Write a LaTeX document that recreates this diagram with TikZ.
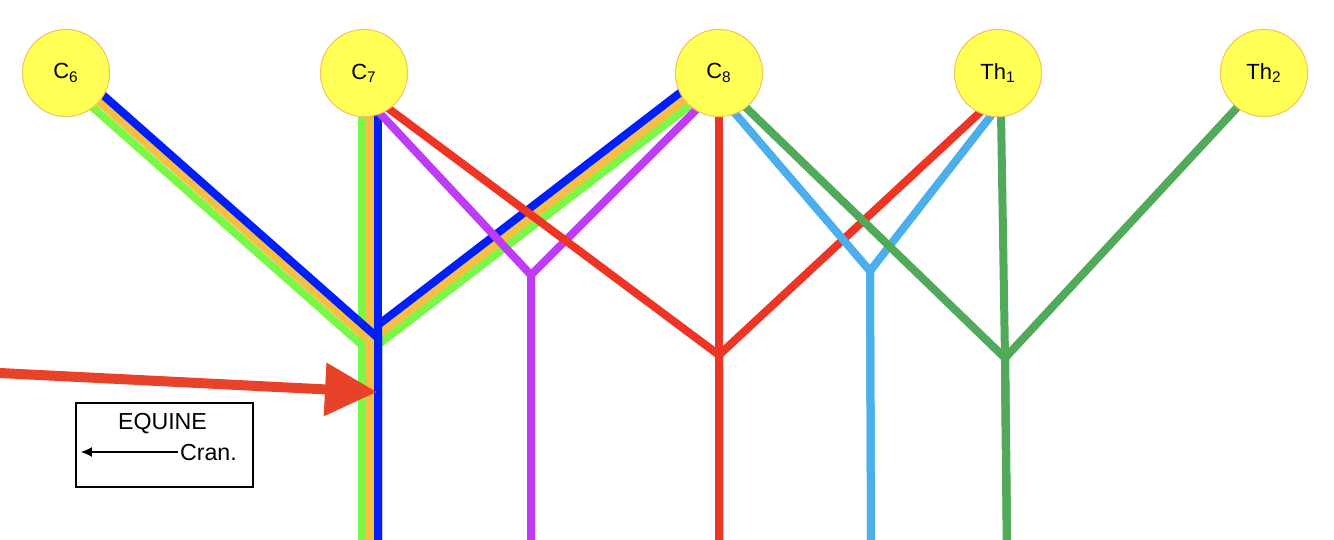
\documentclass[tikz,border=0pt]{standalone}
\usepackage{fontspec}
\setmainfont{Liberation Sans}
\usetikzlibrary{arrows.meta, positioning, backgrounds}

\definecolor{rootYellow}{RGB}{255,255,85}
\definecolor{rootEdge}{RGB}{245,195,95}
\definecolor{nGreen}{RGB}{122,248,72}
\definecolor{nOrange}{RGB}{247,190,68}
\definecolor{nBlue}{RGB}{0,30,250}
\definecolor{nPurple}{RGB}{190,60,245}
\definecolor{nRed}{RGB}{238,52,36}
\definecolor{nSky}{RGB}{75,175,235}
\definecolor{nForest}{RGB}{80,170,90}
\definecolor{arrowRed}{RGB}{232,67,42}

\begin{document}
\begin{tikzpicture}[
    x=0.02cm, y=-0.02cm,
    root/.style={circle, draw=rootEdge, line width=0.6pt, fill=rootYellow, minimum size=1.744cm, inner sep=0pt, font=\fontsize{12.5}{14}\selectfont},
    nerve/.style={line width=0.16cm, shorten <=-5pt},
    bigarrow/.style={-{Triangle[length=1.04cm, width=1.02cm]}, line width=0.2cm, draw=arrowRed},
    legend/.style={rectangle, draw, line width=0.6pt, minimum width=3.54cm, minimum height=1.68cm},
    legtext/.style={font=\fontsize{13.2}{15}\selectfont, inner sep=1pt}
]
    \useasboundingbox (0,0) rectangle (1334,539);

    % spinal roots
    \node[root] (c6) at (66,73) {C\textsubscript{6}};
    \node[root] (c7) at (364,73) {C\textsubscript{7}};
    \node[root] (c8) at (719,73) {C\textsubscript{8}};
    \node[root] (th1) at (998,73) {Th\textsubscript{1}};
    \node[root] (th2) at (1264,73) {Th\textsubscript{2}};

    % junctions and loose ends
    \coordinate (gL) at (362,345);
    \coordinate (gR) at (362,357);
    \coordinate (gB) at (362,545);
    \coordinate (oJ) at (370,341);
    \coordinate (oB) at (370,545);
    \coordinate (bL) at (378,338);
    \coordinate (bR) at (378,325);
    \coordinate (bB) at (378,545);
    \coordinate (pJ) at (531,275);
    \coordinate (pB) at (531,545);
    \coordinate (rJ) at (719,355);
    \coordinate (rB) at (719,545);
    \coordinate (sJ) at (870,271);
    \coordinate (sB) at (871,545);
    \coordinate (fJ) at (1005,358);
    \coordinate (fB) at (1007,545);

    \begin{pgfonlayer}{background}
        % C6-C7-C8 bundle
        \draw[nerve, nGreen] (c6.-52) -- (gL) -- (gB);
        \draw[nerve, nGreen] (c8.-132) -- (gR) -- (gB);
        \draw[nerve, nGreen] (c7.center -| gB) -- (gB);
        \draw[nerve, nOrange] (c6.-41.5) -- (oJ) -- (oB);
        \draw[nerve, nOrange] (c8.-142.5) -- (oJ) -- (oB);
        \draw[nerve, nOrange] (c7.center -| oB) -- (oB);
        \draw[nerve, nBlue] (c6.-31) -- (bL) -- (bB);
        \draw[nerve, nBlue] (c8.-153) -- (bR) -- (bB);
        \draw[nerve, nBlue] (c7.center -| bB) -- (bB);
        % C7-C8
        \draw[nerve, nPurple] (c7.-68) -- (pJ) -- (pB);
        \draw[nerve, nPurple] (c8.-122) -- (pJ) -- (pB);
        % C7-C8-Th1
        \draw[nerve, nRed] (c7.-55) -- (rJ) -- (rB);
        \draw[nerve, nRed] (c8.south) -- (rJ) -- (rB);
        \draw[nerve, nRed] (th1.-115) -- (rJ) -- (rB);
        % C8-Th1
        \draw[nerve, nSky] (c8.-68) -- (sJ) -- (sB);
        \draw[nerve, nSky] (th1.-100) -- (sJ) -- (sB);
        % C8-Th1-Th2
        \draw[nerve, nForest] (c8.-52) -- (fJ) -- (fB);
        \draw[nerve, nForest] (th1.-86) -- (fJ) -- (fB);
        \draw[nerve, nForest] (th2.-128) -- (fJ) -- (fB);
    \end{pgfonlayer}

    % pointer
    \coordinate (tail) at (0,373);
    \coordinate (tip) at (377,392);
    \draw[bigarrow] (tail) -- (tip);

    % orientation box
    \node[legend] (box) at (164.5,445) {};
    \node[legtext] (equine) at (162.5,424) {EQUINE};
    \node[legtext, anchor=west] (cran) at (178,452) {Cran.};
    \coordinate (cranTip) at (81,452);
    \draw[-{Latex[length=0.22cm, width=0.2cm]}, line width=0.6pt] (cran.west) -- (cran.west -| cranTip);
\end{tikzpicture}
\end{document}
